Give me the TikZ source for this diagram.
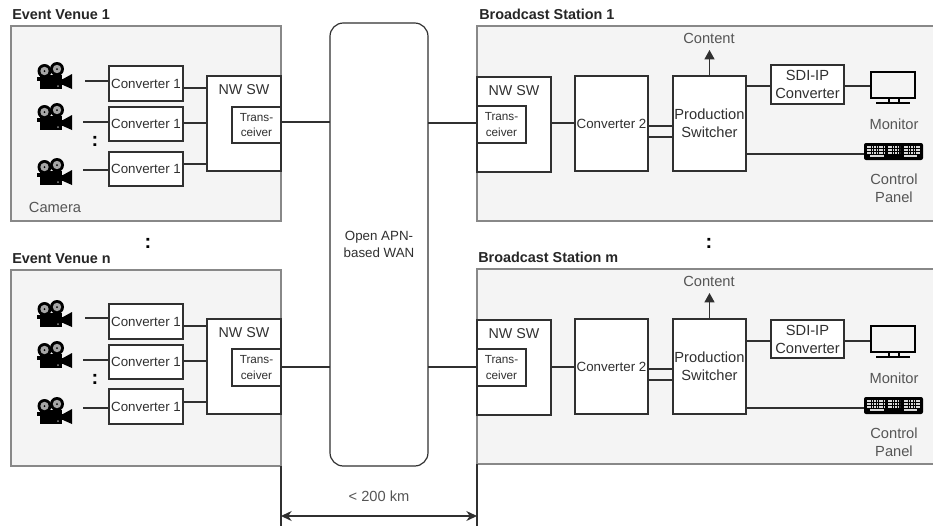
\documentclass[tikz,border=0pt]{standalone}
\usepackage{fontspec}
\setmainfont{Liberation Sans}
\usetikzlibrary{arrows.meta}
\definecolor{panelfill}{HTML}{F4F4F4}
\definecolor{panelline}{HTML}{888888}
\definecolor{ink}{HTML}{303030}
\definecolor{soft}{HTML}{555555}
\tikzset{
  panel/.style={draw=panelline,fill=panelfill,line width=1pt,rectangle,inner sep=0pt,outer sep=0pt},
  boxn/.style={draw=ink,fill=white,line width=0.9pt,rectangle,inner sep=0pt,outer sep=0pt,align=center,text=ink,font=\fontsize{10}{12.5}\selectfont},
  bigbox/.style={boxn,font=\fontsize{11}{13.5}\selectfont},
  transbox/.style={boxn,font=\fontsize{8.8}{11.5}\selectfont},
  wan/.style={boxn,rounded corners=10pt},
  conn/.style={draw=ink,line width=0.9pt},
  title/.style={anchor=west,inner sep=0pt,text=black!85,font=\fontsize{10.8}{12}\selectfont\bfseries},
  lbl/.style={inner sep=0pt,align=center,text=soft,font=\fontsize{11}{13.5}\selectfont},
  dotty/.style={inner sep=0pt,text=black,font=\fontsize{15}{15}\selectfont\bfseries},
  iconspot/.style={rectangle,inner sep=0pt,outer sep=0pt,draw=none},
  boxlabel/.style={anchor=north,inner sep=0pt,yshift=-6pt,text=ink,font=\fontsize{10.7}{12}\selectfont}
}
% \rectnode[style]{name}{x1}{y1}{x2}{y2}{text}
\newcommand{\rectnode}[7][boxn]{%
  \pgfmathsetmacro{\myw}{(#5-#3)*0.75}%
  \pgfmathsetmacro{\myh}{(#6-#4)*0.75}%
  \pgfmathsetmacro{\mycx}{(#3+#5)/2}%
  \pgfmathsetmacro{\mycy}{(#4+#6)/2}%
  \node[#1,minimum width=\myw pt,minimum height=\myh pt] (#2) at (\mycx,\mycy) {#7};%
}
\newcommand{\camicon}[3]{%
  \pgfmathsetmacro{\mycx}{#2+17.5}%
  \pgfmathsetmacro{\mycy}{#3+13.5}%
  \node[iconspot,minimum width=26.25pt,minimum height=20.25pt] (#1) at (\mycx,\mycy) {};%
  \begin{scope}[shift={(#2,#3)}]
    \fill[black] (3,13) rectangle (25,27);
    \fill[black] (0,15) rectangle (5,19);
    \fill[black] (26,17) -- (35,12) -- (35,27) -- (26,23) -- cycle;
    \fill[black] (24,17) rectangle (27,23);
    \fill[black] (7.5,9) circle (7);
    \fill[black] (20,7) circle (7);
    \fill[black!35] (7.5,9) circle (4.2);
    \fill[black!35] (20,7) circle (4.2);
    \fill[black] (7.5,9) circle (1);
    \fill[black] (20,7) circle (1);
    \fill[black!45] (21,24) circle (1);
  \end{scope}%
}
\newcommand{\monicon}[3]{%
  \pgfmathsetmacro{\mycx}{#2+22.5}%
  \pgfmathsetmacro{\mycy}{#3+16}%
  \node[iconspot,minimum width=33.75pt,minimum height=24pt] (#1) at (\mycx,\mycy) {};%
  \begin{scope}[shift={(#2,#3)}]
    \draw[black,line width=2pt] (1,1) rectangle (45,27);
    \fill[black] (17.5,27) rectangle (19.5,32);
    \fill[black] (27.5,27) rectangle (29.5,32);
    \fill[black] (6,31) rectangle (40,33);
  \end{scope}%
}
\newcommand{\kbdicon}[3]{%
  \pgfmathsetmacro{\mycx}{#2+29.5}%
  \pgfmathsetmacro{\mycy}{#3+8.5}%
  \node[iconspot,minimum width=44.25pt,minimum height=12.75pt] (#1) at (\mycx,\mycy) {};%
  \begin{scope}[shift={(#2,#3)}]
    \fill[black,rounded corners=1.5pt] (0,0) rectangle (59,17);
    \foreach \ry in {4,7,10}{
      \draw[white!85!black,line width=0.9pt,dash pattern=on 1.2pt off 0.6pt] (3,\ry) -- (20,\ry);
      \draw[white!85!black,line width=0.9pt,dash pattern=on 1.2pt off 0.6pt] (24,\ry) -- (36,\ry);
      \draw[white!85!black,line width=0.9pt,dash pattern=on 1.2pt off 0.6pt] (40,\ry) -- (56,\ry);
    }
    \draw[white!85!black,line width=0.9pt] (6,13) -- (20,13);
    \draw[white!85!black,line width=0.9pt] (40,13) -- (53,13);
  \end{scope}%
}
\begin{document}
\begin{tikzpicture}[x=0.75pt,y=-0.75pt]
\useasboundingbox (0,0) rectangle (933,526);
\fill[white] (0,0) rectangle (933,526);

% panels
\rectnode[panel]{ev1}{11}{26}{281}{221}{}
\rectnode[panel]{evn}{11}{270}{281}{466}{}
\rectnode[panel]{bs1}{477}{26}{934}{221}{}
\rectnode[panel]{bsm}{477}{269}{934}{464}{}
\node[title] (tev1) at (12,15) {Event Venue 1};
\node[title] (tevn) at (12,259) {Event Venue n};
\node[title] (tbs1) at (479,14) {Broadcast Station 1};
\node[title] (tbsm) at (478,257) {Broadcast Station m};

% WAN
\rectnode[wan]{wan}{330}{23}{428}{466}{Open APN-\\based WAN}

%% Event Venue 1
\rectnode{c1a}{109}{66}{183}{101}{Converter 1}
\rectnode{c1b}{109}{107}{183}{141}{Converter 1}
\rectnode{c1c}{109}{152}{183}{186}{Converter 1}
\rectnode[boxn,label={[boxlabel]north:NW SW}]{nw1}{207}{76}{281}{171}{}
\rectnode[transbox]{tr1}{232}{107}{281}{143}{Trans-\\ceiver}
\camicon{cam1a}{37}{62}
\camicon{cam1b}{37}{103}
\camicon{cam1c}{37}{158}
\coordinate (f1a) at (85,81);
\coordinate (f1b) at (83,122);
\coordinate (f1c) at (83,170);
\draw[conn] (f1a) -- (c1a.west |- f1a);
\draw[conn] (f1b) -- (c1b.west |- f1b);
\draw[conn] (f1c) -- (c1c.west |- f1c);
\draw[conn] (c1a.east |- 0,88) -- (nw1.west |- 0,88);
\draw[conn] (c1b.east |- 0,123) -- (nw1.west |- 0,123);
\draw[conn] (c1c.east |- 0,164) -- (nw1.west |- 0,164);
\node[lbl] (camlbl) at (55,207) {Camera};
\node[dotty] (d1) at (95,141) {:};

%% Event Venue n
\rectnode{cna}{109}{304}{183}{339}{Converter 1}
\rectnode{cnb}{109}{345}{183}{379}{Converter 1}
\rectnode{cnc}{109}{389}{183}{424}{Converter 1}
\rectnode[boxn,label={[boxlabel]north:NW SW}]{nwn}{207}{319}{281}{414}{}
\rectnode[transbox]{trn}{232}{349}{281}{386}{Trans-\\ceiver}
\camicon{camna}{37}{300}
\camicon{camnb}{37}{341}
\camicon{camnc}{37}{397}
\coordinate (fna) at (85,318);
\coordinate (fnb) at (83,360);
\coordinate (fnc) at (83,408);
\draw[conn] (fna) -- (cna.west |- fna);
\draw[conn] (fnb) -- (cnb.west |- fnb);
\draw[conn] (fnc) -- (cnc.west |- fnc);
\draw[conn] (cna.east |- 0,326) -- (nwn.west |- 0,326);
\draw[conn] (cnb.east |- 0,361) -- (nwn.west |- 0,361);
\draw[conn] (cnc.east |- 0,402) -- (nwn.west |- 0,402);
\node[dotty] (dn) at (95,379) {:};

%% Broadcast Station 1
\rectnode[boxn,label={[boxlabel]north:NW SW}]{nwb1}{477}{77}{551}{172}{}
\rectnode[transbox]{trb1}{477}{106}{526}{143}{Trans-\\ceiver}
\rectnode{cv1}{575}{76}{648}{171}{Converter 2}
\rectnode[bigbox]{ps1}{673}{76}{746}{171}{Production\\Switcher}
\rectnode[bigbox]{sdi1}{771}{65}{844}{104}{SDI-IP\\Converter}
\monicon{mon1}{870}{71}
\kbdicon{kbd1}{864}{143}
\node[lbl] (cont1) at (709,38) {Content};
\node[lbl] (monl1) at (894,124) {Monitor};
\node[lbl] (ctrl1) at (894,188) {Control\\Panel};
\draw[conn] (nwb1.east |- 0,123) -- (cv1.west |- 0,123);
\draw[conn] (cv1.east |- 0,126) -- (ps1.west |- 0,126);
\draw[conn] (cv1.east |- 0,137) -- (ps1.west |- 0,137);
\draw[conn] (ps1.east |- 0,86) -- (sdi1.west |- 0,86);
\draw[conn] (sdi1.east |- 0,86) -- (mon1.west |- 0,86);
\draw[conn] (ps1.east |- 0,154) -- (kbd1.west |- 0,154);
\draw[conn,-{Triangle[width=7.5pt,length=7pt]}] (ps1.north) -- (ps1.north |- 0,50);

%% Broadcast Station m
\rectnode[boxn,label={[boxlabel]north:NW SW}]{nwbm}{477}{320}{551}{415}{}
\rectnode[transbox]{trbm}{477}{349}{526}{386}{Trans-\\ceiver}
\rectnode{cvm}{575}{319}{648}{414}{Converter 2}
\rectnode[bigbox]{psm}{673}{319}{746}{414}{Production\\Switcher}
\rectnode[bigbox]{sdim}{771}{320}{844}{358}{SDI-IP\\Converter}
\monicon{monm}{870}{325}
\kbdicon{kbdm}{864}{397}
\node[lbl] (contm) at (709,281) {Content};
\node[lbl] (monlm) at (894,378) {Monitor};
\node[lbl] (ctrlm) at (894,442) {Control\\Panel};
\draw[conn] (nwbm.east |- 0,367) -- (cvm.west |- 0,367);
\draw[conn] (cvm.east |- 0,369) -- (psm.west |- 0,369);
\draw[conn] (cvm.east |- 0,380) -- (psm.west |- 0,380);
\draw[conn] (psm.east |- 0,341) -- (sdim.west |- 0,341);
\draw[conn] (sdim.east |- 0,341) -- (monm.west |- 0,341);
\draw[conn] (psm.east |- 0,408) -- (kbdm.west |- 0,408);
\draw[conn,-{Triangle[width=7.5pt,length=7pt]}] (psm.north) -- (psm.north |- 0,293);

%% WAN links
\draw[conn] (tr1.east |- 0,122) -- (wan.west |- 0,122);
\draw[conn] (wan.east |- 0,123) -- (trb1.west |- 0,123);
\draw[conn] (trn.east |- 0,367) -- (wan.west |- 0,367);
\draw[conn] (wan.east |- 0,367) -- (trbm.west |- 0,367);

%% between-panel dots
\node[dotty] (dmidl) at (148,243) {:};
\node[dotty] (dmidr) at (709,243) {:};

%% distance
\draw[conn] (evn.south east) -- (evn.south east |- 0,526);
\draw[conn] (bsm.south west) -- (bsm.south west |- 0,526);
\draw[conn,{Stealth[width=7.5pt,length=8pt]}-{Stealth[width=7.5pt,length=8pt]}] (evn.south east |- 0,516) -- (bsm.south west |- 0,516);
\node[lbl] (dist) at (379,496) {< 200 km};
\end{tikzpicture}
\end{document}
